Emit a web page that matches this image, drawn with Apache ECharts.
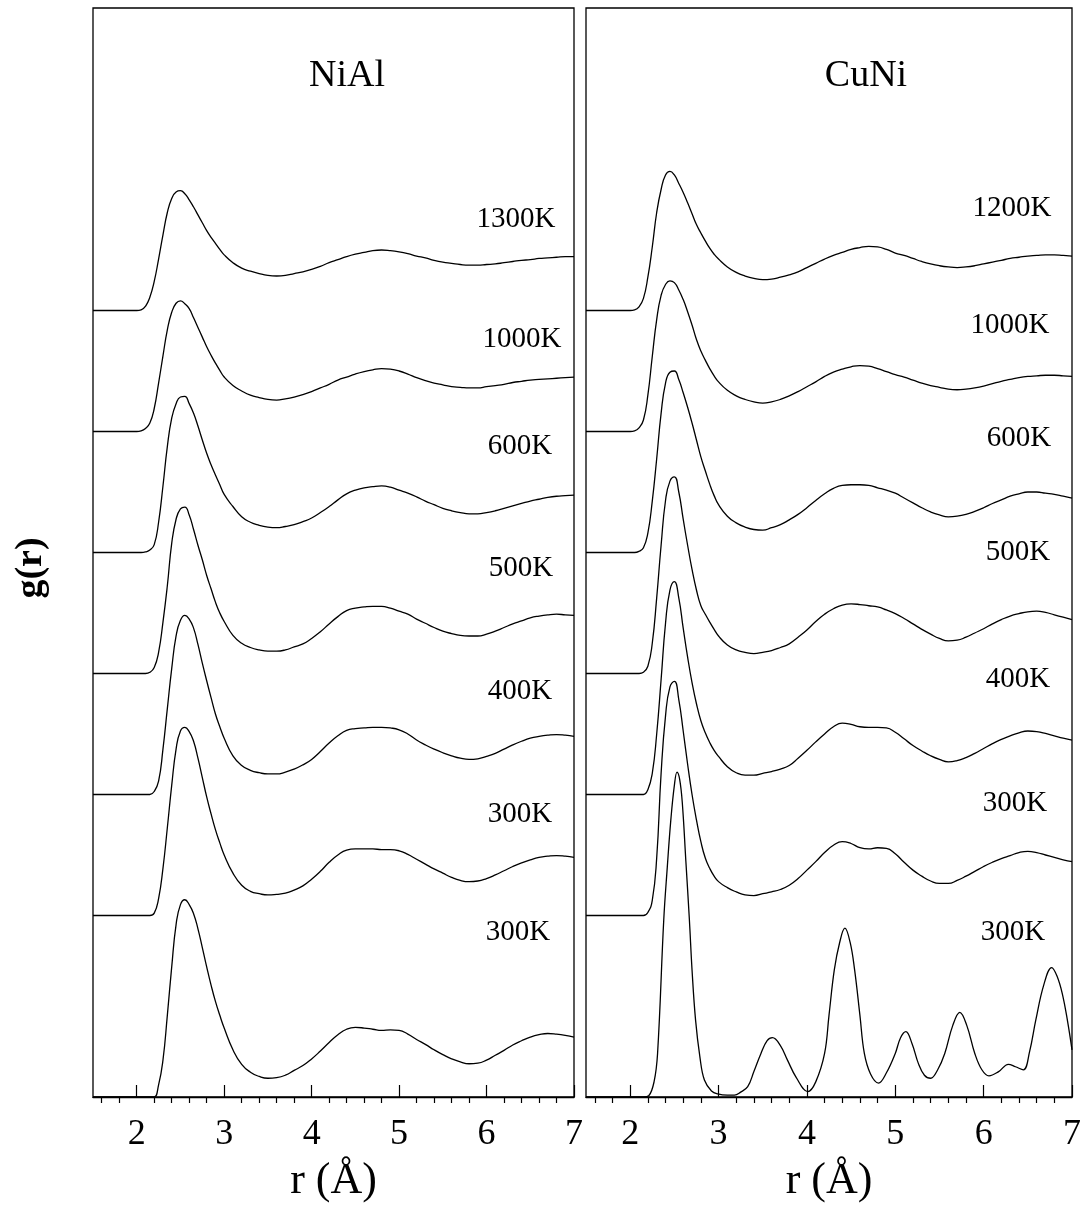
<!DOCTYPE html>
<html>
<head>
<meta charset="utf-8">
<script src="https://cdn.jsdelivr.net/npm/echarts@6/dist/echarts.min.js"></script>
<style>
  html, body { margin: 0; padding: 0; background: #fff; }
  #chart { width: 1084px; height: 1208px; }
</style>
</head>
<body>
<div id="chart"></div>
<script>
// r grid (Å) shared by the liquid/amorphous curves: 0.05 around the first peak, 0.1 after
const rGrid = [1.5,
  2.0, 2.05, 2.1, 2.15, 2.2, 2.25, 2.3, 2.35, 2.4, 2.45, 2.5, 2.55, 2.6, 2.65, 2.7, 2.75, 2.8, 2.85, 2.9, 2.95, 3.0,
  3.1, 3.2, 3.3, 3.4, 3.5, 3.6, 3.7, 3.8, 3.9,
  4.0, 4.1, 4.2, 4.3, 4.4, 4.5, 4.6, 4.7, 4.8, 4.9,
  5.0, 5.1, 5.2, 5.3, 5.4, 5.5, 5.6, 5.7, 5.8, 5.9,
  6.0, 6.1, 6.2, 6.3, 6.4, 6.5, 6.6, 6.7, 6.8, 6.9, 7.0];

// NiAl g(r), top to bottom
const nialTemps = ['1300K', '1000K', '600K', '500K', '400K', '300K', '300K'];
const nial1300 = [0,
  0, 0.01, 0.07, 0.22, 0.48, 0.85, 1.25, 1.62, 1.85, 1.96, 1.98, 1.93, 1.83, 1.71, 1.58, 1.45, 1.32, 1.21, 1.11, 1.01, 0.92,
  0.79, 0.70, 0.65, 0.61, 0.58, 0.57, 0.58, 0.61, 0.64,
  0.68, 0.73, 0.79, 0.84, 0.89, 0.93, 0.96, 0.99, 1.00, 0.99,
  0.97, 0.94, 0.90, 0.87, 0.83, 0.80, 0.78, 0.76, 0.75, 0.75,
  0.76, 0.77, 0.79, 0.81, 0.83, 0.84, 0.86, 0.87, 0.88, 0.89, 0.89];
const nial1000 = [0,
  0, 0.01, 0.05, 0.14, 0.38, 0.80, 1.25, 1.68, 1.97, 2.12, 2.16, 2.11, 2.03, 1.88, 1.72, 1.56, 1.40, 1.26, 1.13, 1.01, 0.90,
  0.76, 0.67, 0.60, 0.56, 0.53, 0.52, 0.54, 0.57, 0.61,
  0.66, 0.72, 0.78, 0.85, 0.90, 0.95, 0.99, 1.02, 1.04, 1.03,
  1.00, 0.95, 0.89, 0.84, 0.80, 0.77, 0.74, 0.73, 0.72, 0.72,
  0.74, 0.76, 0.78, 0.81, 0.83, 0.85, 0.86, 0.87, 0.88, 0.89, 0.90];
const nial600 = [0,
  0, 0, 0.01, 0.04, 0.13, 0.50, 1.10, 1.75, 2.22, 2.46, 2.57, 2.58, 2.46, 2.30, 2.09, 1.86, 1.64, 1.45, 1.28, 1.12, 0.96,
  0.76, 0.59, 0.50, 0.45, 0.42, 0.41, 0.43, 0.46, 0.51,
  0.57, 0.66, 0.76, 0.87, 0.97, 1.03, 1.07, 1.09, 1.10, 1.08,
  1.03, 0.98, 0.92, 0.85, 0.79, 0.73, 0.69, 0.66, 0.64, 0.64,
  0.66, 0.69, 0.73, 0.77, 0.81, 0.85, 0.88, 0.91, 0.93, 0.94, 0.95];
const nial500 = [0,
  0, 0, 0, 0.02, 0.10, 0.35, 0.85, 1.45, 2.15, 2.55, 2.72, 2.75, 2.62, 2.38, 2.12, 1.88, 1.62, 1.40, 1.18, 1.00, 0.86,
  0.63, 0.50, 0.43, 0.39, 0.37, 0.37, 0.39, 0.44, 0.49,
  0.58, 0.69, 0.82, 0.94, 1.04, 1.08, 1.10, 1.11, 1.11, 1.08,
  1.03, 0.98, 0.90, 0.83, 0.76, 0.70, 0.66, 0.63, 0.62, 0.62,
  0.65, 0.70, 0.76, 0.82, 0.87, 0.92, 0.95, 0.97, 0.98, 0.97, 0.96];
const nial400 = [0,
  0, 0, 0, 0, 0.05, 0.22, 0.75, 1.42, 2.08, 2.62, 2.88, 2.96, 2.90, 2.75, 2.48, 2.17, 1.88, 1.60, 1.33, 1.12, 0.93,
  0.64, 0.48, 0.40, 0.36, 0.34, 0.34, 0.37, 0.42, 0.49,
  0.58, 0.71, 0.85, 0.97, 1.06, 1.09, 1.10, 1.11, 1.11, 1.10,
  1.07, 1.00, 0.90, 0.82, 0.75, 0.69, 0.64, 0.60, 0.58, 0.59,
  0.63, 0.68, 0.75, 0.82, 0.88, 0.93, 0.96, 0.98, 0.99, 0.98, 0.96];
const nial300a = [0,
  0, 0, 0, 0, 0.04, 0.28, 0.78, 1.45, 2.15, 2.75, 3.05, 3.11, 3.04, 2.88, 2.60, 2.28, 1.96, 1.68, 1.42, 1.20, 1.00,
  0.70, 0.50, 0.40, 0.36, 0.34, 0.35, 0.37, 0.42, 0.49,
  0.60, 0.73, 0.88, 1.00, 1.08, 1.10, 1.10, 1.10, 1.09, 1.09,
  1.07, 1.01, 0.93, 0.85, 0.77, 0.70, 0.63, 0.58, 0.56, 0.57,
  0.61, 0.67, 0.74, 0.81, 0.87, 0.92, 0.96, 0.98, 0.99, 0.98, 0.96];
const nial300b = [0,
  0, 0, 0, 0, 0, 0.20, 0.61, 1.35, 2.15, 2.85, 3.18, 3.26, 3.18, 3.03, 2.78, 2.47, 2.15, 1.85, 1.58, 1.35, 1.14,
  0.78, 0.54, 0.41, 0.34, 0.31, 0.32, 0.36, 0.44, 0.52,
  0.63, 0.76, 0.90, 1.03, 1.12, 1.15, 1.14, 1.12, 1.10, 1.11,
  1.10, 1.04, 0.95, 0.87, 0.78, 0.70, 0.63, 0.58, 0.55, 0.56,
  0.61, 0.69, 0.77, 0.86, 0.93, 0.99, 1.03, 1.05, 1.04, 1.02, 0.99];

// CuNi g(r), top to bottom
const cuniTemps = ['1200K', '1000K', '600K', '500K', '400K', '300K', '300K'];
const cuni1200 = [0,
  0, 0.01, 0.06, 0.20, 0.55, 1.05, 1.62, 2.00, 2.24, 2.30, 2.24, 2.10, 1.95, 1.78, 1.60, 1.42, 1.28, 1.15, 1.03, 0.93, 0.85,
  0.72, 0.63, 0.57, 0.53, 0.51, 0.52, 0.55, 0.59, 0.64,
  0.71, 0.78, 0.85, 0.91, 0.96, 1.01, 1.04, 1.06, 1.05, 1.01,
  0.95, 0.91, 0.86, 0.81, 0.77, 0.74, 0.72, 0.71, 0.72, 0.74,
  0.77, 0.80, 0.83, 0.86, 0.88, 0.90, 0.91, 0.92, 0.92, 0.91, 0.90];
const cuni1000 = [0,
  0, 0.01, 0.06, 0.19, 0.60, 1.24, 1.85, 2.25, 2.43, 2.49, 2.46, 2.34, 2.18, 1.98, 1.76, 1.52, 1.33, 1.18, 1.04, 0.92, 0.82,
  0.68, 0.59, 0.53, 0.49, 0.47, 0.49, 0.53, 0.59, 0.66,
  0.74, 0.82, 0.91, 0.98, 1.03, 1.07, 1.09, 1.08, 1.04, 0.99,
  0.94, 0.90, 0.85, 0.80, 0.76, 0.73, 0.70, 0.69, 0.70, 0.72,
  0.75, 0.79, 0.83, 0.86, 0.89, 0.91, 0.92, 0.93, 0.93, 0.92, 0.91];
const cuni600 = [0,
  0, 0, 0.02, 0.08, 0.32, 0.85, 1.55, 2.30, 2.80, 2.98, 3.00, 2.86, 2.64, 2.40, 2.14, 1.86, 1.58, 1.35, 1.13, 0.94, 0.79,
  0.60, 0.49, 0.42, 0.38, 0.37, 0.41, 0.46, 0.54, 0.63,
  0.74, 0.86, 0.97, 1.06, 1.11, 1.12, 1.12, 1.11, 1.07, 1.03,
  0.98, 0.90, 0.82, 0.74, 0.67, 0.62, 0.59, 0.60, 0.63, 0.68,
  0.74, 0.81, 0.87, 0.93, 0.97, 1.00, 1.00, 0.98, 0.96, 0.93, 0.90];
const cuni500 = [0,
  0, 0, 0, 0.02, 0.12, 0.50, 1.25, 2.12, 2.86, 3.18, 3.25, 3.00, 2.55, 2.12, 1.72, 1.38, 1.12, 0.98, 0.85, 0.73, 0.62,
  0.47, 0.39, 0.35, 0.33, 0.35, 0.38, 0.43, 0.49, 0.60,
  0.72, 0.86, 0.98, 1.07, 1.13, 1.15, 1.14, 1.12, 1.10, 1.05,
  0.99, 0.91, 0.82, 0.73, 0.65, 0.58, 0.54, 0.55, 0.60, 0.67,
  0.74, 0.82, 0.89, 0.95, 0.99, 1.02, 1.03, 1.01, 0.97, 0.93, 0.89];
const cuni400 = [0,
  0, 0, 0, 0, 0.08, 0.35, 1.00, 1.90, 2.83, 3.38, 3.52, 3.25, 2.75, 2.27, 1.85, 1.50, 1.22, 1.02, 0.86, 0.73, 0.63,
  0.46, 0.36, 0.32, 0.32, 0.35, 0.38, 0.42, 0.48, 0.60,
  0.73, 0.87, 1.00, 1.12, 1.18, 1.16, 1.12, 1.11, 1.11, 1.10,
  1.03, 0.92, 0.81, 0.72, 0.64, 0.58, 0.54, 0.56, 0.61, 0.68,
  0.76, 0.84, 0.91, 0.97, 1.02, 1.05, 1.04, 1.01, 0.97, 0.93, 0.90];
const cuni300 = [0,
  0, 0, 0, 0, 0.05, 0.25, 0.95, 2.35, 3.30, 3.78, 3.87, 3.57, 3.05, 2.50, 2.00, 1.58, 1.22, 0.95, 0.78, 0.65, 0.56,
  0.46, 0.39, 0.34, 0.33, 0.36, 0.39, 0.43, 0.50, 0.61,
  0.75, 0.89, 1.04, 1.16, 1.22, 1.19, 1.12, 1.10, 1.12, 1.11,
  1.02, 0.88, 0.75, 0.65, 0.57, 0.53, 0.53, 0.58, 0.65, 0.73,
  0.81, 0.88, 0.94, 0.99, 1.04, 1.06, 1.04, 1.00, 0.96, 0.92, 0.89];

// CuNi crystal at 300K (sharp peaks, own r points)
const crystalR = [1.5, 2.15, 2.21, 2.27, 2.31, 2.38, 2.42, 2.46, 2.50, 2.53, 2.56, 2.59, 2.63, 2.67, 2.70, 2.74, 2.79, 2.84, 2.92, 2.99,
  3.10, 3.18, 3.25, 3.33, 3.40, 3.48, 3.55, 3.61, 3.70, 3.78, 3.88, 4.01, 4.10, 4.20, 4.25, 4.31, 4.37, 4.43, 4.49, 4.54,
  4.60, 4.65, 4.72, 4.81, 4.90, 5.00, 5.06, 5.12, 5.19, 5.26, 5.33, 5.40, 5.48, 5.56, 5.65, 5.73, 5.81, 5.90, 5.98, 6.06,
  6.17, 6.28, 6.36, 6.45, 6.52, 6.59, 6.68, 6.77, 6.83, 6.89, 6.95, 7.0];
const crystalG = [0, 0, 0.02, 0.25, 0.72, 2.93, 3.80, 4.58, 5.15, 5.37, 5.25, 4.86, 3.90, 2.93, 2.10, 1.27, 0.65, 0.28, 0.10, 0.05,
  0.03, 0.03, 0.08, 0.17, 0.42, 0.72, 0.93, 0.98, 0.85, 0.61, 0.32, 0.09, 0.25, 0.72, 1.35, 2.10, 2.55, 2.79, 2.55, 2.10,
  1.35, 0.72, 0.38, 0.23, 0.40, 0.72, 0.98, 1.08, 0.88, 0.56, 0.36, 0.31, 0.45, 0.72, 1.18, 1.40, 1.18, 0.72, 0.45, 0.35,
  0.42, 0.54, 0.50, 0.45, 0.75, 1.27, 1.85, 2.14, 2.00, 1.71, 1.25, 0.78];

// vertical shift of each curve
const offsets = [13, 11, 9, 7, 5, 3, 0];

const majorTicks = [2, 3, 4, 5, 6, 7];
const minorTicks = [1.6, 1.8, 2.2, 2.4, 2.6, 2.8, 3.2, 3.4, 3.6, 3.8, 4.2, 4.4, 4.6, 4.8,
  5.2, 5.4, 5.6, 5.8, 6.2, 6.4, 6.6, 6.8];

const FONT = '"Liberation Serif", "Times New Roman", serif';

const nialCurves = [nial1300, nial1000, nial600, nial500, nial400, nial300a, nial300b];
const cuniCurves = [cuni1200, cuni1000, cuni600, cuni500, cuni400, cuni300];

// label placement (pixel centres)
const nialLabelXY = [[516, 219], [522, 339], [520, 446], [521, 568], [520, 691], [520, 814], [518, 932]];
const cuniLabelXY = [[1012, 208], [1010, 325], [1019, 438], [1018, 552], [1018, 679], [1015, 803], [1013, 932]];

const chart = echarts.init(document.getElementById('chart'));

const grids = [
  { left: 93, top: 8, width: 481, height: 1089 },
  { left: 586, top: 8, width: 486, height: 1089 }
].map(g => Object.assign(g, { show: true, borderColor: '#000', borderWidth: 1.3, backgroundColor: 'transparent' }));

let xAxis = [];
let yAxis = [];
grids.forEach((g, gi) => {
  xAxis.push({
    gridIndex: gi, type: 'value', min: 1.5, max: 7,
    axisLine: { show: true, onZero: false, lineStyle: { color: '#000', width: 1.3 } },
    axisTick: { show: true, inside: true, length: 12, customValues: majorTicks, lineStyle: { color: '#000', width: 1.2 } },
    axisLabel: { customValues: majorTicks, color: '#000', fontSize: 36, fontFamily: FONT, margin: 20 },
    splitLine: { show: false },
    name: 'r (Å)', nameLocation: 'middle', nameGap: 62,
    nameTextStyle: { color: '#000', fontSize: 44, fontFamily: FONT }
  });
  xAxis.push({
    gridIndex: gi, type: 'value', min: 1.5, max: 7,
    axisLine: { show: false },
    axisTick: { show: true, inside: true, length: 6, customValues: minorTicks, lineStyle: { color: '#000', width: 1.2 } },
    axisLabel: { show: false },
    splitLine: { show: false }
  });
  yAxis.push({ gridIndex: gi, type: 'value', min: 0, max: 18, show: false });
});

function lineSeries(gi, data, smooth) {
  return {
    type: 'line', xAxisIndex: gi * 2, yAxisIndex: gi,
    data, smooth, symbol: 'none', silent: true,
    lineStyle: { color: '#000', width: 1.3 }
  };
}

let series = [];
nialCurves.forEach((g, i) => {
  series.push(lineSeries(0, rGrid.map((r, k) => [r, g[k] + offsets[i]]), 0.5));
});
cuniCurves.forEach((g, i) => {
  series.push(lineSeries(1, rGrid.map((r, k) => [r, g[k] + offsets[i]]), 0.5));
});
series.push(lineSeries(1, crystalR.map((r, k) => [r, crystalG[k] + offsets[6]]), 0.4));

let graphic = [];
const textStyle = (text, size, weight) => ({
  text, fill: '#000', align: 'center', verticalAlign: 'middle',
  font: (weight || 'normal') + ' ' + size + 'px ' + FONT
});
nialTemps.forEach((t, i) => graphic.push({ type: 'text', x: nialLabelXY[i][0], y: nialLabelXY[i][1], style: textStyle(t, 29) }));
cuniTemps.forEach((t, i) => graphic.push({ type: 'text', x: cuniLabelXY[i][0], y: cuniLabelXY[i][1], style: textStyle(t, 29) }));
graphic.push({ type: 'text', x: 347, y: 76, style: textStyle('NiAl', 38) });
graphic.push({ type: 'text', x: 866, y: 76, style: textStyle('CuNi', 38) });
graphic.push({ type: 'text', x: 31, y: 568, rotation: Math.PI / 2, style: textStyle('g(r)', 38, 'bold') });

chart.setOption({
  backgroundColor: '#fff',
  animation: false,
  grid: grids,
  xAxis,
  yAxis,
  series,
  graphic
});
</script>
</body>
</html>
